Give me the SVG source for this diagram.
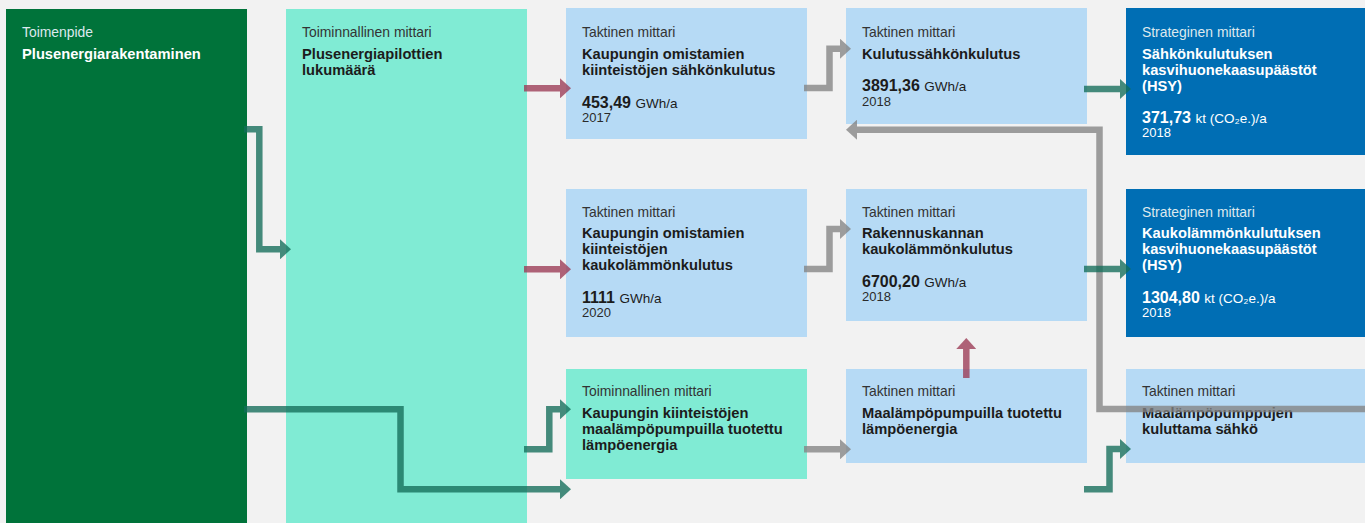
<svg xmlns="http://www.w3.org/2000/svg" width="1365" height="523" viewBox="0 0 1365 523">
<style>
  text { font-family: "Liberation Sans", Arial, sans-serif; }
  .lbl { font-size: 13.9px; fill: #333333; }
  .ttl { font-size: 14.7px; font-weight: bold; fill: #1c1c1c; }
  .val { font-size: 16px; font-weight: bold; fill: #1c1c1c; }
  .unit { font-size: 13.5px; font-weight: normal; }
  .yr { font-size: 13px; fill: #2a2a2a; }
  .dark .lbl { fill: #dde9ee; }
  .dark .ttl, .dark .val, .dark .yr { fill: #ffffff; }
  .green { fill: #00733a; }
  .mint { fill: #80ebd4; }
  .lblue { fill: #b6daf5; }
  .dblue { fill: #006eb4; }
  .c { fill: none; stroke-width: 6.5; stroke-linejoin: miter; stroke-linecap: butt; opacity: 0.78; }
  .teal { stroke: #146e5a; }
  .red { stroke: #9c3a55; }
  .grey { stroke: #848484; }
</style>
<defs>
  <marker id="hTeal" markerUnits="userSpaceOnUse" markerWidth="11" markerHeight="20" refX="0" refY="10" orient="auto"><path d="M0,0 L11,10 L0,20 Z" fill="#146e5a"/></marker>
  <marker id="hRed" markerUnits="userSpaceOnUse" markerWidth="11" markerHeight="20" refX="0" refY="10" orient="auto"><path d="M0,0 L11,10 L0,20 Z" fill="#9c3a55"/></marker>
  <marker id="hGrey" markerUnits="userSpaceOnUse" markerWidth="11" markerHeight="20" refX="0" refY="10" orient="auto"><path d="M0,0 L11,10 L0,20 Z" fill="#848484"/></marker>
</defs>
<rect x="0" y="0" width="1365" height="523" fill="#f2f2f2"/>

<g id="n1" class="dark">
  <rect class="green" x="6" y="9" width="241" height="514"/>
  <text class="lbl" x="22" y="37">Toimenpide</text>
  <text class="ttl" x="22" y="58.7">Plusenergiarakentaminen</text>
</g>
<g id="n2">
  <rect class="mint" x="286" y="9" width="241" height="514"/>
  <text class="lbl" x="302" y="37">Toiminnallinen mittari</text>
  <text class="ttl" x="302" y="58.7">Plusenergiapilottien</text>
  <text class="ttl" x="302" y="74.7">lukumäärä</text>
</g>
<g id="n3">
  <rect class="lblue" x="566" y="8" width="241" height="131"/>
  <text class="lbl" x="582" y="37">Taktinen mittari</text>
  <text class="ttl" x="582" y="58.5">Kaupungin omistamien</text>
  <text class="ttl" x="582" y="74.5">kiinteistöjen sähkönkulutus</text>
  <text class="val" x="582" y="107.5">453,49 <tspan class="unit">GWh/a</tspan></text>
  <text class="yr" x="582" y="121.5">2017</text>
</g>
<g id="n4">
  <rect class="lblue" x="846" y="8" width="241" height="116"/>
  <text class="lbl" x="862" y="37">Taktinen mittari</text>
  <text class="ttl" x="862" y="58.5">Kulutussähkönkulutus</text>
  <text class="val" x="862" y="91">3891,36 <tspan class="unit">GWh/a</tspan></text>
  <text class="yr" x="862" y="105.5">2018</text>
</g>
<g id="n5" class="dark">
  <rect class="dblue" x="1126" y="8" width="240" height="147"/>
  <text class="lbl" x="1142" y="37">Strateginen mittari</text>
  <text class="ttl" x="1142" y="58.5">Sähkönkulutuksen</text>
  <text class="ttl" x="1142" y="74.5">kasvihuonekaasupäästöt</text>
  <text class="ttl" x="1142" y="90.5">(HSY)</text>
  <text class="val" x="1142" y="123">371,73 <tspan class="unit">kt (CO₂e.)/a</tspan></text>
  <text class="yr" x="1142" y="137">2018</text>
</g>
<g id="n6">
  <rect class="lblue" x="566" y="189" width="241" height="148"/>
  <text class="lbl" x="582" y="216.5">Taktinen mittari</text>
  <text class="ttl" x="582" y="237.5">Kaupungin omistamien</text>
  <text class="ttl" x="582" y="253.7">kiinteistöjen</text>
  <text class="ttl" x="582" y="269.9">kaukolämmönkulutus</text>
  <text class="val" x="582" y="302.5">1111 <tspan class="unit">GWh/a</tspan></text>
  <text class="yr" x="582" y="317">2020</text>
</g>
<g id="n7">
  <rect class="lblue" x="846" y="189" width="241" height="132"/>
  <text class="lbl" x="862" y="216.5">Taktinen mittari</text>
  <text class="ttl" x="862" y="237.5">Rakennuskannan</text>
  <text class="ttl" x="862" y="253.7">kaukolämmönkulutus</text>
  <text class="val" x="862" y="286.5">6700,20 <tspan class="unit">GWh/a</tspan></text>
  <text class="yr" x="862" y="301">2018</text>
</g>
<g id="n8" class="dark">
  <rect class="dblue" x="1126" y="189" width="240" height="148"/>
  <text class="lbl" x="1142" y="216.5">Strateginen mittari</text>
  <text class="ttl" x="1142" y="237.5">Kaukolämmönkulutuksen</text>
  <text class="ttl" x="1142" y="253.7">kasvihuonekaasupäästöt</text>
  <text class="ttl" x="1142" y="269.9">(HSY)</text>
  <text class="val" x="1142" y="302.5">1304,80 <tspan class="unit">kt (CO₂e.)/a</tspan></text>
  <text class="yr" x="1142" y="317">2018</text>
</g>
<g id="n9">
  <rect class="mint" x="566" y="369" width="241" height="110"/>
  <text class="lbl" x="582" y="396">Toiminnallinen mittari</text>
  <text class="ttl" x="582" y="417.5">Kaupungin kiinteistöjen</text>
  <text class="ttl" x="582" y="433.7">maalämpöpumpuilla tuotettu</text>
  <text class="ttl" x="582" y="449.9">lämpöenergia</text>
</g>
<g id="n10">
  <rect class="lblue" x="846" y="369" width="241" height="94"/>
  <text class="lbl" x="862" y="396">Taktinen mittari</text>
  <text class="ttl" x="862" y="417.5">Maalämpöpumpuilla tuotettu</text>
  <text class="ttl" x="862" y="433.7">lämpöenergia</text>
</g>
<g id="n11">
  <rect class="lblue" x="1126" y="369" width="240" height="94"/>
  <text class="lbl" x="1142" y="396">Taktinen mittari</text>
  <text class="ttl" x="1142" y="417.5">Maalämpöpumppujen</text>
  <text class="ttl" x="1142" y="433.7">kuluttama sähkö</text>
</g>

<g id="connectors">
  <path class="c teal" d="M244,129.3 H259.3 V249.3 H280" marker-end="url(#hTeal)"/>
  <path class="c teal" d="M244,409.3 H400.5 V489.3 H560" marker-end="url(#hTeal)"/>
  <path class="c teal" d="M524,449.3 H549.3 V409.3 H560" marker-end="url(#hTeal)"/>
  <path class="c red" d="M524,88.3 H560" marker-end="url(#hRed)"/>
  <path class="c red" d="M524,269.3 H560" marker-end="url(#hRed)"/>
  <path class="c grey" d="M804,88 H829.5 V48.7 H840" marker-end="url(#hGrey)"/>
  <path class="c grey" d="M804,269 H829.5 V229 H840" marker-end="url(#hGrey)"/>
  <path class="c grey" d="M804,449.3 H840" marker-end="url(#hGrey)"/>
  <path class="c red" d="M966.3,378 V349" marker-end="url(#hRed)"/>
  <path class="c grey" d="M1366,409 H1099.5 V129.7 H857" marker-end="url(#hGrey)"/>
  <path class="c teal" d="M1084,89 H1120" marker-end="url(#hTeal)"/>
  <path class="c teal" d="M1084,269 H1120" marker-end="url(#hTeal)"/>
  <path class="c teal" d="M1084,489.3 H1109.5 V449 H1120" marker-end="url(#hTeal)"/>
</g>
</svg>
